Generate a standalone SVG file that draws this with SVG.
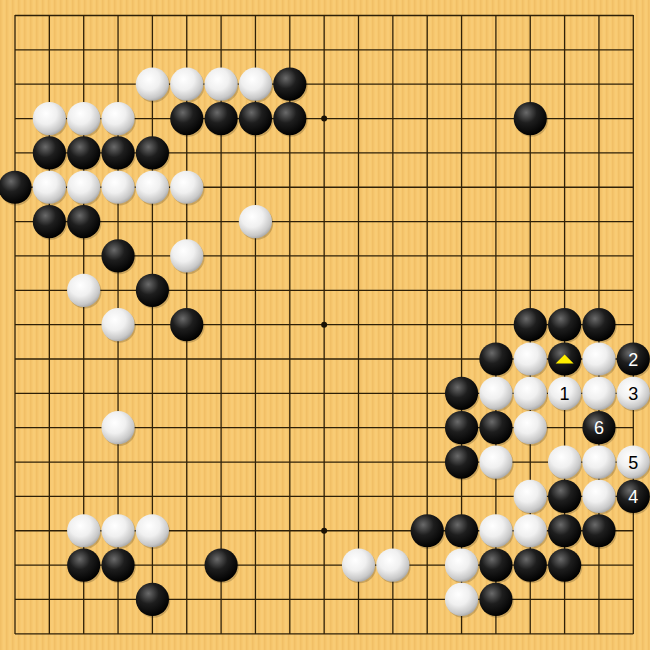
<svg xmlns="http://www.w3.org/2000/svg" xmlns:xlink="http://www.w3.org/1999/xlink" width="650" height="650" viewBox="0 0 650 650">
<style>
.grid line{stroke:#2e2008;stroke-width:1.3}
.hoshi{fill:#1a1205}
.b{fill:url(#gb)}
.w{fill:url(#gw)}
.sh{fill:#000;opacity:0.18}
.num{font-family:"Liberation Sans",Arial,sans-serif;font-size:18px;text-anchor:middle}
.nb{fill:#fff}
.nw{fill:#000}
</style>
<defs>
<pattern id="wood" width="6" height="10" patternUnits="userSpaceOnUse">
<rect width="6" height="10" fill="#F7C86F"/>
<rect x="0" width="1.5" height="10" fill="#F1BF66"/>
<rect x="3.5" width="1" height="10" fill="#F9CE7A"/>
</pattern>
<radialGradient id="gb" cx="0.38" cy="0.32" r="0.7">
<stop offset="0" stop-color="#6a6a6a"/>
<stop offset="0.45" stop-color="#1e1e1e"/>
<stop offset="1" stop-color="#000"/>
</radialGradient>
<radialGradient id="gw" cx="0.4" cy="0.35" r="0.72">
<stop offset="0" stop-color="#ffffff"/>
<stop offset="0.45" stop-color="#f0f0f0"/>
<stop offset="0.8" stop-color="#c8c8c8"/>
<stop offset="1" stop-color="#9a9a9a"/>
</radialGradient>
<g id="B"><circle class="sh" cx="1.2" cy="1.6" r="16.6"/><circle class="b" r="16.6"/></g>
<g id="W"><circle class="sh" cx="1.2" cy="1.6" r="16.6"/><circle class="w" r="16.6"/></g>
</defs>
<rect width="650" height="650" fill="url(#wood)"/>
<g id="connectors" class="grid">
<line x1="15" y1="15" x2="15" y2="634"/><line x1="49.35" y1="15" x2="49.35" y2="634"/><line x1="83.7" y1="15" x2="83.7" y2="634"/><line x1="118.05" y1="15" x2="118.05" y2="634"/><line x1="152.4" y1="15" x2="152.4" y2="634"/><line x1="186.75" y1="15" x2="186.75" y2="634"/><line x1="221.1" y1="15" x2="221.1" y2="634"/><line x1="255.45" y1="15" x2="255.45" y2="634"/><line x1="289.8" y1="15" x2="289.8" y2="634"/><line x1="324.15" y1="15" x2="324.15" y2="634"/><line x1="358.5" y1="15" x2="358.5" y2="634"/><line x1="392.85" y1="15" x2="392.85" y2="634"/><line x1="427.2" y1="15" x2="427.2" y2="634"/><line x1="461.55" y1="15" x2="461.55" y2="634"/><line x1="495.9" y1="15" x2="495.9" y2="634"/><line x1="530.25" y1="15" x2="530.25" y2="634"/><line x1="564.6" y1="15" x2="564.6" y2="634"/><line x1="598.95" y1="15" x2="598.95" y2="634"/><line x1="633.3" y1="15" x2="633.3" y2="634"/>
<line x1="15" y1="15.5" x2="633.3" y2="15.5"/><line x1="15" y1="49.85" x2="633.3" y2="49.85"/><line x1="15" y1="84.2" x2="633.3" y2="84.2"/><line x1="15" y1="118.55" x2="633.3" y2="118.55"/><line x1="15" y1="152.9" x2="633.3" y2="152.9"/><line x1="15" y1="187.25" x2="633.3" y2="187.25"/><line x1="15" y1="221.6" x2="633.3" y2="221.6"/><line x1="15" y1="255.95" x2="633.3" y2="255.95"/><line x1="15" y1="290.3" x2="633.3" y2="290.3"/><line x1="15" y1="324.65" x2="633.3" y2="324.65"/><line x1="15" y1="359" x2="633.3" y2="359"/><line x1="15" y1="393.35" x2="633.3" y2="393.35"/><line x1="15" y1="427.7" x2="633.3" y2="427.7"/><line x1="15" y1="462.05" x2="633.3" y2="462.05"/><line x1="15" y1="496.4" x2="633.3" y2="496.4"/><line x1="15" y1="530.75" x2="633.3" y2="530.75"/><line x1="15" y1="565.1" x2="633.3" y2="565.1"/><line x1="15" y1="599.45" x2="633.3" y2="599.45"/><line x1="15" y1="633.8" x2="633.3" y2="633.8"/>
</g>
<g id="hoshi">
<circle class="hoshi" cx="118.05" cy="118.55" r="3"/><circle class="hoshi" cx="324.15" cy="118.55" r="3"/><circle class="hoshi" cx="530.25" cy="118.55" r="3"/>
<circle class="hoshi" cx="118.05" cy="324.65" r="3"/><circle class="hoshi" cx="324.15" cy="324.65" r="3"/><circle class="hoshi" cx="530.25" cy="324.65" r="3"/>
<circle class="hoshi" cx="118.05" cy="530.75" r="3"/><circle class="hoshi" cx="324.15" cy="530.75" r="3"/><circle class="hoshi" cx="530.25" cy="530.75" r="3"/>
</g>
<g id="stones">
<g id="w-4-2"><use href="#W" x="152.4" y="84.2"/></g>
<g id="w-5-2"><use href="#W" x="186.75" y="84.2"/></g>
<g id="w-6-2"><use href="#W" x="221.1" y="84.2"/></g>
<g id="w-7-2"><use href="#W" x="255.45" y="84.2"/></g>
<g id="b-8-2"><use href="#B" x="289.8" y="84.2"/></g>
<g id="w-1-3"><use href="#W" x="49.35" y="118.55"/></g>
<g id="w-2-3"><use href="#W" x="83.7" y="118.55"/></g>
<g id="w-3-3"><use href="#W" x="118.05" y="118.55"/></g>
<g id="b-5-3"><use href="#B" x="186.75" y="118.55"/></g>
<g id="b-6-3"><use href="#B" x="221.1" y="118.55"/></g>
<g id="b-7-3"><use href="#B" x="255.45" y="118.55"/></g>
<g id="b-8-3"><use href="#B" x="289.8" y="118.55"/></g>
<g id="b-15-3"><use href="#B" x="530.25" y="118.55"/></g>
<g id="b-1-4"><use href="#B" x="49.35" y="152.9"/></g>
<g id="b-2-4"><use href="#B" x="83.7" y="152.9"/></g>
<g id="b-3-4"><use href="#B" x="118.05" y="152.9"/></g>
<g id="b-4-4"><use href="#B" x="152.4" y="152.9"/></g>
<g id="b-0-5"><use href="#B" x="15" y="187.25"/></g>
<g id="w-1-5"><use href="#W" x="49.35" y="187.25"/></g>
<g id="w-2-5"><use href="#W" x="83.7" y="187.25"/></g>
<g id="w-3-5"><use href="#W" x="118.05" y="187.25"/></g>
<g id="w-4-5"><use href="#W" x="152.4" y="187.25"/></g>
<g id="w-5-5"><use href="#W" x="186.75" y="187.25"/></g>
<g id="b-1-6"><use href="#B" x="49.35" y="221.6"/></g>
<g id="b-2-6"><use href="#B" x="83.7" y="221.6"/></g>
<g id="w-7-6"><use href="#W" x="255.45" y="221.6"/></g>
<g id="b-3-7"><use href="#B" x="118.05" y="255.95"/></g>
<g id="w-5-7"><use href="#W" x="186.75" y="255.95"/></g>
<g id="w-2-8"><use href="#W" x="83.7" y="290.3"/></g>
<g id="b-4-8"><use href="#B" x="152.4" y="290.3"/></g>
<g id="w-3-9"><use href="#W" x="118.05" y="324.65"/></g>
<g id="b-5-9"><use href="#B" x="186.75" y="324.65"/></g>
<g id="b-15-9"><use href="#B" x="530.25" y="324.65"/></g>
<g id="b-16-9"><use href="#B" x="564.6" y="324.65"/></g>
<g id="b-17-9"><use href="#B" x="598.95" y="324.65"/></g>
<g id="b-14-10"><use href="#B" x="495.9" y="359"/></g>
<g id="w-15-10"><use href="#W" x="530.25" y="359"/></g>
<g id="b-16-10"><use href="#B" x="564.6" y="359"/><polygon points="555.6,363.5 573.6,363.5 564.6,354.5" fill="#ffee00"/></g>
<g id="w-17-10"><use href="#W" x="598.95" y="359"/></g>
<g id="b-18-10"><use href="#B" x="633.3" y="359"/><text class="num nb" x="633.3" y="365.5">2</text></g>
<g id="b-13-11"><use href="#B" x="461.55" y="393.35"/></g>
<g id="w-14-11"><use href="#W" x="495.9" y="393.35"/></g>
<g id="w-15-11"><use href="#W" x="530.25" y="393.35"/></g>
<g id="w-16-11"><use href="#W" x="564.6" y="393.35"/><text class="num nw" x="564.6" y="399.85">1</text></g>
<g id="w-17-11"><use href="#W" x="598.95" y="393.35"/></g>
<g id="w-18-11"><use href="#W" x="633.3" y="393.35"/><text class="num nw" x="633.3" y="399.85">3</text></g>
<g id="w-3-12"><use href="#W" x="118.05" y="427.7"/></g>
<g id="b-13-12"><use href="#B" x="461.55" y="427.7"/></g>
<g id="b-14-12"><use href="#B" x="495.9" y="427.7"/></g>
<g id="w-15-12"><use href="#W" x="530.25" y="427.7"/></g>
<g id="b-17-12"><use href="#B" x="598.95" y="427.7"/><text class="num nb" x="598.95" y="434.2">6</text></g>
<g id="b-13-13"><use href="#B" x="461.55" y="462.05"/></g>
<g id="w-14-13"><use href="#W" x="495.9" y="462.05"/></g>
<g id="w-16-13"><use href="#W" x="564.6" y="462.05"/></g>
<g id="w-17-13"><use href="#W" x="598.95" y="462.05"/></g>
<g id="w-18-13"><use href="#W" x="633.3" y="462.05"/><text class="num nw" x="633.3" y="468.55">5</text></g>
<g id="w-15-14"><use href="#W" x="530.25" y="496.4"/></g>
<g id="b-16-14"><use href="#B" x="564.6" y="496.4"/></g>
<g id="w-17-14"><use href="#W" x="598.95" y="496.4"/></g>
<g id="b-18-14"><use href="#B" x="633.3" y="496.4"/><text class="num nb" x="633.3" y="502.9">4</text></g>
<g id="w-2-15"><use href="#W" x="83.7" y="530.75"/></g>
<g id="w-3-15"><use href="#W" x="118.05" y="530.75"/></g>
<g id="w-4-15"><use href="#W" x="152.4" y="530.75"/></g>
<g id="b-12-15"><use href="#B" x="427.2" y="530.75"/></g>
<g id="b-13-15"><use href="#B" x="461.55" y="530.75"/></g>
<g id="w-14-15"><use href="#W" x="495.9" y="530.75"/></g>
<g id="w-15-15"><use href="#W" x="530.25" y="530.75"/></g>
<g id="b-16-15"><use href="#B" x="564.6" y="530.75"/></g>
<g id="b-17-15"><use href="#B" x="598.95" y="530.75"/></g>
<g id="b-2-16"><use href="#B" x="83.7" y="565.1"/></g>
<g id="b-3-16"><use href="#B" x="118.05" y="565.1"/></g>
<g id="b-6-16"><use href="#B" x="221.1" y="565.1"/></g>
<g id="w-10-16"><use href="#W" x="358.5" y="565.1"/></g>
<g id="w-11-16"><use href="#W" x="392.85" y="565.1"/></g>
<g id="w-13-16"><use href="#W" x="461.55" y="565.1"/></g>
<g id="b-14-16"><use href="#B" x="495.9" y="565.1"/></g>
<g id="b-15-16"><use href="#B" x="530.25" y="565.1"/></g>
<g id="b-16-16"><use href="#B" x="564.6" y="565.1"/></g>
<g id="b-4-17"><use href="#B" x="152.4" y="599.45"/></g>
<g id="w-13-17"><use href="#W" x="461.55" y="599.45"/></g>
<g id="b-14-17"><use href="#B" x="495.9" y="599.45"/></g>
</g>
</svg>
